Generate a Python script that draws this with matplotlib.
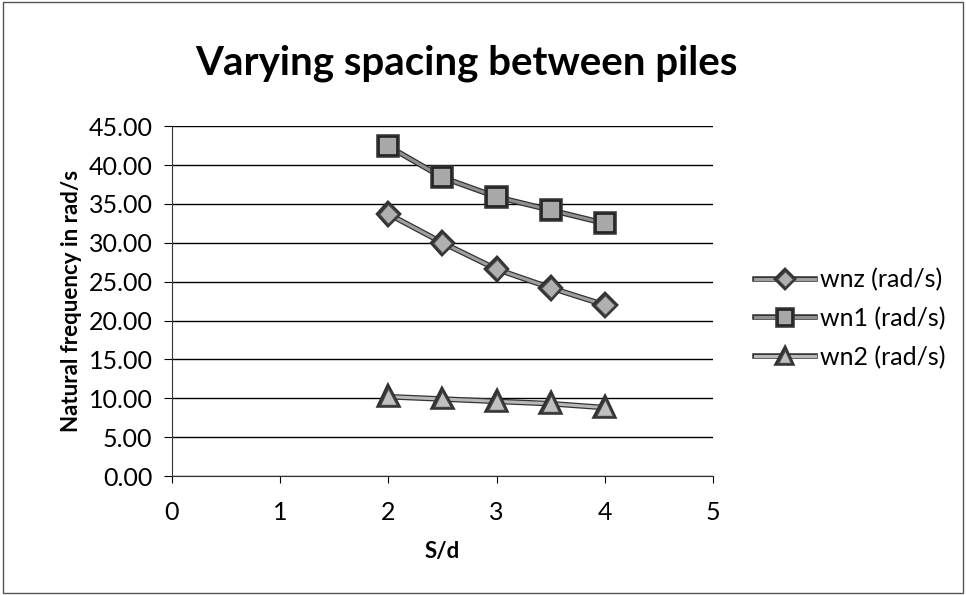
import matplotlib
matplotlib.use('Agg')
import matplotlib.pyplot as plt
import matplotlib.patheffects as pe
from matplotlib.patches import Rectangle

s_d = [2, 2.5, 3, 3.5, 4]
wnz = [33.7, 30.0, 26.6, 24.2, 22.0]
wn1 = [42.4, 38.4, 35.9, 34.2, 32.5]
wn2 = [10.2, 9.9, 9.6, 9.3, 8.8]
labels = ['wnz (rad/s)', 'wn1 (rad/s)', 'wn2 (rad/s)']

plt.rcParams['font.family'] = ['Lato', 'DejaVu Sans']

fig = plt.figure(figsize=(9.66, 5.95), dpi=100)
ax = fig.add_axes([0.178, 0.2, 0.56, 0.588])

fx = [pe.Stroke(linewidth=4, foreground='#333333'), pe.Normal()]
ax.plot(s_d, wnz, color='#a0a0a0', lw=2.2, marker='D', ms=10, mfc='#b0b0b0',
        mec='#444444', mew=1, label=labels[0], path_effects=fx)
ax.plot(s_d, wn1, color='#909090', lw=2.2, marker='s', ms=13, mfc='#a8a8a8',
        mec='#222222', mew=1.2, label=labels[1], path_effects=fx)
ax.plot(s_d, wn2, color='#b8b8b8', lw=2.2, marker='^', ms=12, mfc='#c0c0c0',
        mec='#444444', mew=1, label=labels[2], path_effects=fx)

ax.set_xlim(0, 5)
ax.set_ylim(0, 45)
ax.set_yticks([i * 5 for i in range(10)])
ax.set_yticklabels(['%.2f' % (i * 5) for i in range(10)])
ax.set_xticks(range(6))
ax.grid(axis='y', color='black', lw=1)
ax.set_axisbelow(True)
for s in ['top', 'right']:
    ax.spines[s].set_visible(False)
ax.spines['left'].set_color('#333333')
ax.spines['bottom'].set_color('#333333')
ax.tick_params(axis='y', length=6, labelsize=18, direction='out', pad=8)
ax.tick_params(axis='x', length=5, labelsize=18, direction='out', pad=13)

ax.set_xlabel('S/d', fontsize=16, fontweight='bold', labelpad=12)
ax.set_ylabel('Natural frequency in rad/s', fontsize=16, fontweight='bold', labelpad=5)
fig.text(0.483, 0.893, 'Varying spacing between piles', fontsize=29,
         fontweight='bold', ha='center', va='center')

ax.legend(loc='center left', bbox_to_anchor=(1.045, 0.45), frameon=False,
          fontsize=18, handlelength=2.4, labelspacing=0.62, handletextpad=0.2,
          borderpad=0.2, markerscale=0.8)

fig.patches.append(Rectangle((0.003, 0.003), 0.994, 0.994, transform=fig.transFigure,
                             fill=False, edgecolor='#555555', lw=1))

fig.savefig('out.png', dpi=100)
